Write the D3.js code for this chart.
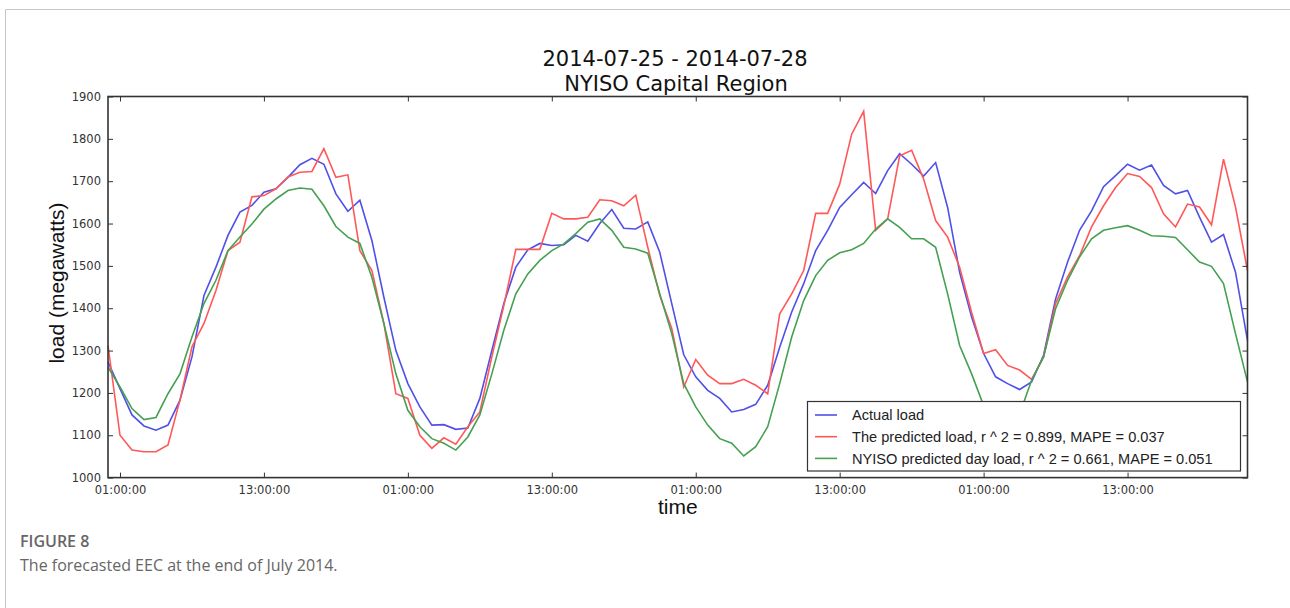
<!DOCTYPE html>
<html>
<head>
<meta charset="utf-8">
<script src="https://cdn.jsdelivr.net/npm/d3@7/dist/d3.min.js"></script>
<style>
  html, body { margin: 0; padding: 0; background: #fff; }
  svg { display: block; }
</style>
</head>
<body>
<svg id="chart" width="1290" height="608"></svg>
<script>
// ---- data (hourly, 2014-07-25 00:00 .. 2014-07-28 23:00) ----
const hours = d3.range(96);
const actualLoad = [
  1273,1210,1148,1122,1112,1124,1183,1285,1430,1497,1572,1627,1643,1674,1682,1709,1739,1754,1740,1670,1629,1655,1560,1426,
  1300,1222,1167,1124,1125,1114,1117,1187,1300,1411,1497,1538,1553,1548,1550,1572,1558,1600,1633,1589,1587,1604,1532,1411,
  1290,1238,1206,1187,1155,1161,1173,1218,1308,1391,1458,1536,1584,1638,1668,1697,1671,1725,1765,1740,1712,1744,1638,1485,
  1379,1293,1238,1222,1208,1226,1289,1422,1509,1584,1630,1687,1713,1740,1726,1738,1690,1670,1678,1615,1556,1574,1485,1324
];
const predictedLoad = [
  1312,1100,1065,1061,1061,1077,1183,1309,1364,1442,1536,1556,1663,1666,1682,1710,1721,1723,1777,1709,1715,1536,1489,1364,
  1198,1187,1100,1069,1094,1079,1120,1155,1285,1406,1539,1539,1539,1624,1611,1611,1615,1656,1654,1642,1667,1544,1430,1352,
  1214,1279,1242,1222,1222,1232,1218,1198,1387,1434,1489,1624,1624,1693,1811,1865,1584,1611,1760,1773,1705,1607,1568,1497,
  1390,1293,1302,1265,1254,1232,1285,1411,1474,1524,1592,1642,1685,1718,1711,1685,1623,1592,1646,1639,1597,1752,1639,1489
];
const nyisoLoad = [
  1261,1214,1163,1137,1142,1198,1245,1332,1411,1466,1536,1568,1599,1634,1658,1678,1684,1681,1642,1593,1568,1553,1473,1364,
  1245,1159,1120,1092,1081,1065,1096,1148,1245,1348,1434,1481,1513,1536,1552,1576,1603,1611,1584,1544,1540,1530,1434,1340,
  1222,1167,1124,1092,1081,1051,1073,1120,1222,1332,1418,1477,1513,1531,1538,1553,1587,1611,1591,1564,1564,1544,1434,1312,
  1245,1170,1125,1105,1150,1230,1285,1399,1466,1521,1564,1584,1590,1595,1584,1571,1570,1567,1538,1509,1499,1458,1340,1226
];
const xTickHours = [1,13,25,37,49,61,73,85];
const xTickLabels = ["01:00:00","13:00:00","01:00:00","13:00:00","01:00:00","13:00:00","01:00:00","13:00:00"];
const yTicks = [1000,1100,1200,1300,1400,1500,1600,1700,1800,1900];
const seriesNames = [
  "Actual load",
  "The predicted load, r ^ 2 = 0.899, MAPE = 0.037",
  "NYISO predicted day load, r ^ 2 = 0.661, MAPE = 0.051"
];
const seriesColors = ["#5050e8", "#ff5858", "#45a052"];
const titleLines = ["2014-07-25 - 2014-07-28", "NYISO Capital Region"];

// ---- layout ----
const svg = d3.select("#chart");
const L = 108, R = 1247.5, T = 96.5, B = 477.6;

// figure frame
svg.append("path").attr("d", "M5.5,608 L5.5,9.5 L1290,9.5")
  .attr("fill", "none").attr("stroke", "#c8c8c8").attr("stroke-width", 1);

const x = d3.scaleLinear().domain([0, 95]).range([L, R]);
const y = d3.scaleLinear().domain([1000, 1900]).range([B, T]);

const tickFont = "DejaVu Sans, sans-serif";

// lines
const seriesData = [actualLoad, predictedLoad, nyisoLoad];
const line = d3.line().x((d, i) => x(hours[i])).y(d => y(d));
const plot = svg.append("g");
seriesData.forEach((s, k) => {
  plot.append("path").datum(s).attr("d", line)
    .attr("fill", "none").attr("stroke", seriesColors[k])
    .attr("stroke-width", 1.6).attr("stroke-linejoin", "miter");
});

// axes (ticks inside, on all four sides)
const axB = d3.axisBottom(x).tickValues(xTickHours).tickFormat((d, i) => xTickLabels[i]).tickSizeInner(-5).tickSizeOuter(0).tickPadding(8);
const axT = d3.axisTop(x).tickValues(xTickHours).tickFormat("").tickSizeInner(-5).tickSizeOuter(0);
const axL = d3.axisLeft(y).tickValues(yTicks).tickFormat(d3.format("d")).tickSizeInner(-5).tickSizeOuter(0).tickPadding(7);
const axR = d3.axisRight(y).tickValues(yTicks).tickFormat("").tickSizeInner(-5).tickSizeOuter(0);

function styleAxis(g) {
  g.select(".domain").remove();
  g.selectAll(".tick line").attr("stroke", "#333").attr("stroke-width", 1);
  g.selectAll(".tick text").attr("fill", "#333").style("font-family", tickFont).style("font-size", "11.5px");
}
svg.append("g").attr("transform", `translate(0,${B})`).call(axB).call(styleAxis);
svg.append("g").attr("transform", `translate(0,${T})`).call(axT).call(styleAxis);
svg.append("g").attr("transform", `translate(${L},0)`).call(axL).call(styleAxis);
svg.append("g").attr("transform", `translate(${R},0)`).call(axR).call(styleAxis);

// frame
svg.append("rect").attr("x", L).attr("y", T).attr("width", R - L).attr("height", B - T)
  .attr("fill", "none").attr("stroke", "#333").attr("stroke-width", 1.6);

// legend
const lg = svg.append("g");
const lx = 807.5, ly = 401.5, lw = 433, lh = 69.5;
lg.append("rect").attr("x", lx).attr("y", ly).attr("width", lw).attr("height", lh)
  .attr("fill", "#fff").attr("stroke", "#333").attr("stroke-width", 1.2);
seriesNames.forEach((name, k) => {
  const ry = 415 + k * 21.7;
  lg.append("line").attr("x1", 815).attr("x2", 837).attr("y1", ry).attr("y2", ry)
    .attr("stroke", seriesColors[k]).attr("stroke-width", 1.6);
  lg.append("text").attr("x", 852).attr("y", ry).attr("dy", "0.36em")
    .attr("fill", "#222").style("font-family", "Liberation Sans, Arial, sans-serif").style("font-size", "14.6px")
    .text(name);
});

// titles
svg.append("text").attr("x", 675).attr("y", 66).attr("text-anchor", "middle")
  .style("font-family", "DejaVu Sans, sans-serif").style("font-size", "21px").attr("fill", "#111").text(titleLines[0]);
svg.append("text").attr("x", 676).attr("y", 90.5).attr("text-anchor", "middle")
  .style("font-family", "DejaVu Sans, sans-serif").style("font-size", "21px").attr("fill", "#111").text(titleLines[1]);

// axis labels
svg.append("text").attr("x", (L + R) / 2).attr("y", 514).attr("text-anchor", "middle")
  .style("font-family", "Liberation Sans, Arial, sans-serif").style("font-size", "21px").attr("fill", "#111").text("time");
svg.append("text").attr("transform", `translate(64,${(T + B) / 2 - 4}) rotate(-90)`).attr("text-anchor", "middle")
  .style("font-family", "Liberation Sans, Arial, sans-serif").style("font-size", "21px").attr("fill", "#111").text("load (megawatts)");

// caption
svg.append("text").attr("x", 20).attr("y", 547)
  .style("font-family", "Open Sans, sans-serif").style("font-size", "16px").style("font-weight", "600")
  .attr("fill", "#666").text("FIGURE 8");
svg.append("text").attr("x", 20).attr("y", 571)
  .style("font-family", "Open Sans, sans-serif").style("font-size", "16px")
  .attr("fill", "#666").text("The forecasted EEC at the end of July 2014.");
</script>
</body>
</html>
